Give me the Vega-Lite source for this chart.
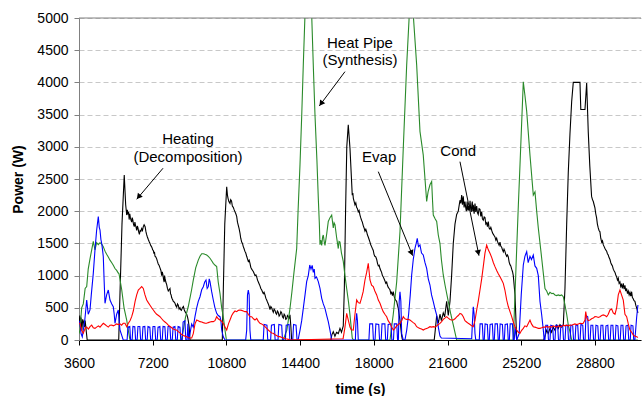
{
"$schema": "https://vega.github.io/schema/vega-lite/v6.json",
"width": 562, "height": 322,
"autosize": "none",
"padding": {"left": 79, "top": 18, "right": 1, "bottom": 56},
"background": "white",
"config": {
 "font": "Liberation Sans",
 "view": {"stroke": null},
 "axisX": {"domainColor": "#000000", "tickColor": "#000000", "tickSize": 5, "labelFontSize": 14, "labelColor": "#000000", "labelPadding": 11, "labelOverlap": false, "labelFlush": false, "titleFontSize": 14, "titleFontWeight": "bold", "titleColor": "#000000", "grid": false},
 "axisY": {"domainColor": "#808080", "tickColor": "#808080", "tickSize": 5, "tickCount": 12, "labelFontSize": 14, "labelColor": "#000000", "labelPadding": 6, "labelOverlap": false, "grid": true, "gridDash": [5, 3], "gridColor": "#c8c8c8", "titleFontSize": 14, "titleFontWeight": "bold", "titleColor": "#000000"}
},
"encoding": {
 "x": {"field": "t", "type": "quantitative", "title": "time (s)", "scale": {"domain": [3600, 31050], "nice": false, "zero": false},
       "axis": {"values": [3600, 7200, 10800, 14400, 18000, 21600, 25200, 28800], "tickCount": 20, "format": "d", "title": "time (s)", "titleX": 281, "titleY": 49, "titleAlign": "center", "titleBaseline": "middle"}},
 "y": {"field": "p", "type": "quantitative", "title": "Power (W)", "scale": {"domain": [0, 5000], "nice": false, "zero": true},
       "axis": {"values": [0, 500, 1000, 1500, 2000, 2500, 3000, 3500, 4000, 4500, 5000], "tickCount": 12, "format": "d", "title": "Power (W)", "titleX": -61, "titleY": 161, "titleAngle": -90, "titleAlign": "center", "titleBaseline": "middle"}}
},
"datasets": {
 "heating": [
  {"t":3600,"p":250},{"t":3640,"p":380},{"t":3670,"p":200},{"t":3700,"p":350},{"t":3740,"p":150},{"t":3780,"p":320},{"t":3820,"p":280},{"t":3860,"p":200},{"t":3900,"p":300},{"t":3960,"p":120},{"t":4000,"p":0},
  {"t":5540,"p":0},{"t":5600,"p":700},{"t":5700,"p":1800},{"t":5810,"p":2560},{"t":5880,"p":2100},{"t":5930,"p":1940},{"t":5960,"p":2020},{"t":5990,"p":1950},{"t":6020,"p":1990},{"t":6050,"p":1870},{"t":6080,"p":1960},{"t":6110,"p":1900},{"t":6140,"p":1860},{"t":6174,"p":1830},{"t":6200,"p":1900},{"t":6230,"p":1860},{"t":6265,"p":1790},{"t":6300,"p":1760},{"t":6330,"p":1830},{"t":6360,"p":1780},{"t":6390,"p":1750},{"t":6418,"p":1700},{"t":6450,"p":1770},{"t":6480,"p":1740},{"t":6515,"p":1680},{"t":6550,"p":1640},{"t":6585,"p":1700},{"t":6620,"p":1690},{"t":6660,"p":1730},{"t":6700,"p":1700},{"t":6740,"p":1760},{"t":6780,"p":1790},{"t":6830,"p":1760},{"t":6865,"p":1690},{"t":6900,"p":1640},{"t":6940,"p":1600},{"t":6985,"p":1560},{"t":7025,"p":1530},{"t":7068,"p":1500},{"t":7100,"p":1470},{"t":7140,"p":1450},{"t":7170,"p":1430},{"t":7200,"p":1400},{"t":7230,"p":1390},{"t":7260,"p":1340},{"t":7285,"p":1370},{"t":7312,"p":1300},{"t":7350,"p":1290},{"t":7395,"p":1260},{"t":7430,"p":1220},{"t":7470,"p":1180},{"t":7510,"p":1160},{"t":7556,"p":1120},{"t":7600,"p":1080},{"t":7639,"p":1000},{"t":7670,"p":1060},{"t":7700,"p":1010},{"t":7730,"p":940},{"t":7760,"p":900},{"t":7780,"p":1000},{"t":7800,"p":960},{"t":7840,"p":900},{"t":7883,"p":860},{"t":7920,"p":800},{"t":7961,"p":760},{"t":8000,"p":780},{"t":8044,"p":800},{"t":8070,"p":720},{"t":8100,"p":700},{"t":8125,"p":660},{"t":8150,"p":640},{"t":8180,"p":620},{"t":8206,"p":600},{"t":8245,"p":590},{"t":8289,"p":570},{"t":8330,"p":530},{"t":8372,"p":510},{"t":8410,"p":560},{"t":8450,"p":540},{"t":8490,"p":480},{"t":8533,"p":500},{"t":8565,"p":470},{"t":8600,"p":460},{"t":8650,"p":500},{"t":8700,"p":520},{"t":8740,"p":470},{"t":8780,"p":440},{"t":8820,"p":420},{"t":8860,"p":400},{"t":8900,"p":360},{"t":8938,"p":300},{"t":8980,"p":200},{"t":9021,"p":0},
  {"t":10600,"p":0},{"t":10650,"p":800},{"t":10720,"p":1800},{"t":10814,"p":2380},{"t":10850,"p":2250},{"t":10880,"p":2200},{"t":10920,"p":2150},{"t":10975,"p":2120},{"t":11010,"p":2180},{"t":11050,"p":2160},{"t":11090,"p":2080},{"t":11136,"p":2060},{"t":11180,"p":2020},{"t":11220,"p":1990},{"t":11260,"p":1960},{"t":11302,"p":1920},{"t":11340,"p":1830},{"t":11380,"p":1780},{"t":11420,"p":1730},{"t":11463,"p":1660},{"t":11500,"p":1580},{"t":11546,"p":1520},{"t":11585,"p":1500},{"t":11624,"p":1450},{"t":11660,"p":1420},{"t":11700,"p":1380},{"t":11745,"p":1350},{"t":11790,"p":1300},{"t":11830,"p":1260},{"t":11869,"p":1220},{"t":11910,"p":1240},{"t":11952,"p":1190},{"t":11990,"p":1130},{"t":12035,"p":1100},{"t":12080,"p":1080},{"t":12120,"p":1060},{"t":12160,"p":1030},{"t":12196,"p":1000},{"t":12240,"p":1010},{"t":12279,"p":980},{"t":12320,"p":930},{"t":12360,"p":900},{"t":12400,"p":870},{"t":12440,"p":840},{"t":12480,"p":800},{"t":12520,"p":780},{"t":12560,"p":750},{"t":12601,"p":720},{"t":12640,"p":740},{"t":12684,"p":700},{"t":12725,"p":650},{"t":12767,"p":620},{"t":12805,"p":590},{"t":12846,"p":560},{"t":12890,"p":520},{"t":12929,"p":470},{"t":12970,"p":520},{"t":13010,"p":500},{"t":13050,"p":460},{"t":13090,"p":430},{"t":13130,"p":480},{"t":13173,"p":460},{"t":13210,"p":420},{"t":13250,"p":400},{"t":13290,"p":450},{"t":13330,"p":430},{"t":13375,"p":370},{"t":13417,"p":390},{"t":13460,"p":440},{"t":13500,"p":420},{"t":13540,"p":360},{"t":13580,"p":340},{"t":13620,"p":400},{"t":13661,"p":380},{"t":13700,"p":320},{"t":13744,"p":330},{"t":13780,"p":380},{"t":13822,"p":360},{"t":13860,"p":340},{"t":13905,"p":390},{"t":13950,"p":200},{"t":13988,"p":0},
  {"t":15900,"p":0},{"t":15950,"p":80},{"t":16020,"p":130},{"t":16100,"p":60},{"t":16180,"p":120},{"t":16264,"p":100},{"t":16347,"p":180},{"t":16420,"p":120},{"t":16508,"p":220},{"t":16560,"p":800},{"t":16620,"p":2000},{"t":16680,"p":3000},{"t":16752,"p":3340},{"t":16835,"p":2980},{"t":16947,"p":2250},{"t":16975,"p":2280},{"t":17000,"p":2200},{"t":17040,"p":2150},{"t":17079,"p":2100},{"t":17120,"p":2130},{"t":17160,"p":2060},{"t":17200,"p":2040},{"t":17240,"p":1990},{"t":17280,"p":2010},{"t":17324,"p":1940},{"t":17360,"p":1900},{"t":17400,"p":1860},{"t":17440,"p":1830},{"t":17480,"p":1780},{"t":17525,"p":1740},{"t":17568,"p":1690},{"t":17610,"p":1720},{"t":17651,"p":1680},{"t":17690,"p":1630},{"t":17729,"p":1600},{"t":17770,"p":1560},{"t":17812,"p":1520},{"t":17850,"p":1480},{"t":17890,"p":1450},{"t":17930,"p":1420},{"t":17973,"p":1390},{"t":18010,"p":1330},{"t":18050,"p":1300},{"t":18095,"p":1290},{"t":18140,"p":1250},{"t":18180,"p":1190},{"t":18220,"p":1150},{"t":18260,"p":1160},{"t":18301,"p":1110},{"t":18340,"p":1080},{"t":18380,"p":1050},{"t":18420,"p":1000},{"t":18460,"p":980},{"t":18500,"p":950},{"t":18540,"p":920},{"t":18585,"p":880},{"t":18628,"p":900},{"t":18665,"p":850},{"t":18700,"p":820},{"t":18745,"p":800},{"t":18789,"p":780},{"t":18830,"p":720},{"t":18870,"p":740},{"t":18910,"p":690},{"t":18950,"p":750},{"t":18990,"p":680},{"t":19030,"p":640},{"t":19070,"p":620},{"t":19116,"p":600},{"t":19155,"p":540},{"t":19194,"p":490},{"t":19278,"p":300},{"t":19361,"p":60},{"t":19400,"p":0},
  {"t":20950,"p":0},{"t":21000,"p":150},{"t":21070,"p":380},{"t":21150,"p":260},{"t":21231,"p":400},{"t":21300,"p":300},{"t":21392,"p":420},{"t":21460,"p":360},{"t":21558,"p":600},{"t":21637,"p":380},{"t":21720,"p":600},{"t":21800,"p":1000},{"t":21881,"p":1500},{"t":21964,"p":1800},{"t":22047,"p":1950},{"t":22125,"p":2000},{"t":22208,"p":2170},{"t":22250,"p":2120},{"t":22291,"p":2250},{"t":22330,"p":2100},{"t":22369,"p":2230},{"t":22410,"p":2060},{"t":22452,"p":2150},{"t":22490,"p":2050},{"t":22520,"p":2000},{"t":22560,"p":2150},{"t":22590,"p":2010},{"t":22614,"p":2080},{"t":22655,"p":2010},{"t":22700,"p":2160},{"t":22730,"p":2040},{"t":22760,"p":1990},{"t":22790,"p":2110},{"t":22810,"p":2150},{"t":22835,"p":2000},{"t":22858,"p":2100},{"t":22900,"p":1960},{"t":22941,"p":2120},{"t":22980,"p":1990},{"t":23024,"p":2080},{"t":23060,"p":1980},{"t":23100,"p":1950},{"t":23140,"p":2040},{"t":23185,"p":2030},{"t":23225,"p":1920},{"t":23268,"p":1990},{"t":23305,"p":1880},{"t":23346,"p":1860},{"t":23390,"p":1910},{"t":23429,"p":1900},{"t":23470,"p":1800},{"t":23512,"p":1820},{"t":23550,"p":1760},{"t":23591,"p":1840},{"t":23630,"p":1740},{"t":23674,"p":1720},{"t":23715,"p":1750},{"t":23760,"p":1700},{"t":23800,"p":1660},{"t":23840,"p":1640},{"t":23880,"p":1620},{"t":23918,"p":1600},{"t":23960,"p":1550},{"t":24000,"p":1580},{"t":24040,"p":1530},{"t":24080,"p":1500},{"t":24120,"p":1470},{"t":24162,"p":1520},{"t":24200,"p":1460},{"t":24245,"p":1440},{"t":24285,"p":1400},{"t":24324,"p":1370},{"t":24360,"p":1410},{"t":24400,"p":1380},{"t":24445,"p":1330},{"t":24490,"p":1300},{"t":24530,"p":1320},{"t":24568,"p":1290},{"t":24610,"p":1210},{"t":24651,"p":1170},{"t":24690,"p":1150},{"t":24734,"p":1100},{"t":24775,"p":1060},{"t":24813,"p":1000},{"t":24896,"p":700},{"t":24979,"p":0},
  {"t":26300,"p":0},{"t":26360,"p":60},{"t":26443,"p":150},{"t":26520,"p":100},{"t":26604,"p":180},{"t":26680,"p":120},{"t":26766,"p":200},{"t":26848,"p":150},{"t":26930,"p":230},{"t":27010,"p":180},{"t":27092,"p":240},{"t":27175,"p":200},{"t":27254,"p":230},{"t":27336,"p":800},{"t":27420,"p":1800},{"t":27498,"p":2600},{"t":27580,"p":3200},{"t":27663,"p":3700},{"t":27742,"p":4000},{"t":27900,"p":4000},{"t":28069,"p":4000},{"t":28110,"p":3580},{"t":28230,"p":3580},{"t":28313,"p":3580},{"t":28396,"p":3990},{"t":28474,"p":3230},{"t":28550,"p":2700},{"t":28636,"p":2230},{"t":28680,"p":2180},{"t":28720,"p":2150},{"t":28760,"p":2100},{"t":28800,"p":2050},{"t":28840,"p":1960},{"t":28880,"p":1900},{"t":28920,"p":1800},{"t":28962,"p":1740},{"t":29000,"p":1700},{"t":29045,"p":1680},{"t":29085,"p":1580},{"t":29130,"p":1520},{"t":29170,"p":1540},{"t":29206,"p":1480},{"t":29250,"p":1450},{"t":29290,"p":1420},{"t":29330,"p":1400},{"t":29372,"p":1380},{"t":29410,"p":1340},{"t":29451,"p":1320},{"t":29490,"p":1280},{"t":29534,"p":1250},{"t":29575,"p":1200},{"t":29617,"p":1170},{"t":29655,"p":1150},{"t":29695,"p":1100},{"t":29740,"p":1070},{"t":29780,"p":1050},{"t":29820,"p":1010},{"t":29860,"p":980},{"t":29900,"p":930},{"t":29940,"p":960},{"t":29980,"p":880},{"t":30022,"p":900},{"t":30060,"p":830},{"t":30100,"p":860},{"t":30140,"p":800},{"t":30184,"p":880},{"t":30225,"p":790},{"t":30266,"p":850},{"t":30305,"p":760},{"t":30349,"p":800},{"t":30390,"p":720},{"t":30430,"p":760},{"t":30470,"p":700},{"t":30510,"p":740},{"t":30550,"p":680},{"t":30593,"p":750},{"t":30630,"p":660},{"t":30670,"p":640},{"t":30710,"p":610},{"t":30754,"p":600},{"t":30795,"p":540},{"t":30837,"p":500},{"t":30900,"p":420}
 ],
 "pipe": [
  {"t":3600,"p":100},{"t":3649,"p":155},{"t":3730,"p":500},{"t":3810,"p":560},{"t":3900,"p":800},{"t":3976,"p":830},{"t":4050,"p":1100},{"t":4137,"p":1260},{"t":4220,"p":1400},{"t":4298,"p":1530},{"t":4381,"p":1400},{"t":4460,"p":1510},{"t":4543,"p":1480},{"t":4626,"p":1510},{"t":4709,"p":1490},{"t":4787,"p":1450},{"t":4870,"p":1380},{"t":4950,"p":1330},{"t":5031,"p":1290},{"t":5114,"p":1240},{"t":5200,"p":1200},{"t":5275,"p":1160},{"t":5358,"p":1110},{"t":5440,"p":1080},{"t":5519,"p":1040},{"t":5554,"p":1030},{"t":5686,"p":780},{"t":5800,"p":500},{"t":5930,"p":310},{"t":6008,"p":150},{"t":6091,"p":0},
  {"t":8600,"p":0},{"t":8694,"p":155},{"t":8800,"p":350},{"t":8938,"p":520},{"t":9100,"p":780},{"t":9182,"p":930},{"t":9300,"p":1120},{"t":9426,"p":1240},{"t":9510,"p":1300},{"t":9593,"p":1340},{"t":9671,"p":1340},{"t":9750,"p":1330},{"t":9837,"p":1320},{"t":9915,"p":1300},{"t":9998,"p":1270},{"t":10080,"p":1230},{"t":10159,"p":1190},{"t":10250,"p":1160},{"t":10325,"p":1140},{"t":10400,"p":900},{"t":10486,"p":725},{"t":10569,"p":500},{"t":10648,"p":360},{"t":10731,"p":155},{"t":10800,"p":0},
  {"t":13580,"p":0},{"t":13661,"p":80},{"t":13750,"p":150},{"t":13822,"p":300},{"t":13905,"p":490},{"t":14000,"p":750},{"t":14100,"p":1050},{"t":14233,"p":1420},{"t":14300,"p":2000},{"t":14394,"p":2720},{"t":14480,"p":3500},{"t":14555,"p":4270},{"t":14638,"p":5050},{"t":14700,"p":5400},{"t":14900,"p":5400},{"t":14965,"p":5050},{"t":15050,"p":4200},{"t":15127,"p":3490},{"t":15220,"p":2800},{"t":15288,"p":2200},{"t":15340,"p":1800},{"t":15371,"p":1480},{"t":15410,"p":1550},{"t":15454,"p":1470},{"t":15500,"p":1600},{"t":15532,"p":1630},{"t":15580,"p":1520},{"t":15615,"p":1470},{"t":15700,"p":1650},{"t":15776,"p":1840},{"t":15860,"p":1900},{"t":15942,"p":1940},{"t":16020,"p":1740},{"t":16060,"p":1820},{"t":16103,"p":1790},{"t":16180,"p":1600},{"t":16264,"p":1420},{"t":16300,"p":1530},{"t":16347,"p":1520},{"t":16420,"p":1350},{"t":16508,"p":1220},{"t":16591,"p":1000},{"t":16674,"p":800},{"t":16760,"p":600},{"t":16835,"p":390},{"t":16947,"p":30},{"t":17000,"p":0},
  {"t":18789,"p":0},{"t":18950,"p":400},{"t":19116,"p":900},{"t":19278,"p":1680},{"t":19439,"p":2980},{"t":19605,"p":4270},{"t":19732,"p":5050},{"t":19800,"p":5400},{"t":19880,"p":5400},{"t":19927,"p":5050},{"t":20093,"p":4270},{"t":20254,"p":3240},{"t":20415,"p":2870},{"t":20500,"p":2500},{"t":20581,"p":2150},{"t":20650,"p":2300},{"t":20742,"p":2410},{"t":20825,"p":2460},{"t":20870,"p":2150},{"t":20904,"p":1940},{"t":21000,"p":1880},{"t":21070,"p":1840},{"t":21148,"p":1630},{"t":21230,"p":1500},{"t":21300,"p":1250},{"t":21392,"p":1010},{"t":21480,"p":850},{"t":21637,"p":595},{"t":21760,"p":400},{"t":21881,"p":233},{"t":22047,"p":0},
  {"t":24813,"p":0},{"t":24979,"p":1420},{"t":25060,"p":2100},{"t":25140,"p":2720},{"t":25301,"p":4010},{"t":25380,"p":3800},{"t":25467,"p":3550},{"t":25628,"p":2870},{"t":25789,"p":2250},{"t":25872,"p":2300},{"t":25955,"p":2000},{"t":26034,"p":1740},{"t":26199,"p":1270},{"t":26360,"p":800},{"t":26443,"p":760},{"t":26522,"p":700},{"t":26604,"p":740},{"t":26700,"p":720},{"t":26766,"p":725},{"t":26848,"p":700},{"t":26930,"p":690},{"t":27010,"p":700},{"t":27092,"p":690},{"t":27175,"p":700},{"t":27254,"p":672},{"t":27336,"p":544},{"t":27420,"p":400},{"t":27498,"p":233},{"t":27600,"p":100},{"t":27663,"p":0},{"t":30900,"p":0}
 ],
 "evap": [
  {"t":3600,"p":300},{"t":3649,"p":259},{"t":3700,"p":100},{"t":3760,"p":50},{"t":3810,"p":155},{"t":3880,"p":300},{"t":3976,"p":621},{"t":4050,"p":400},{"t":4137,"p":466},{"t":4200,"p":700},{"t":4298,"p":1035},{"t":4381,"p":1400},{"t":4460,"p":1700},{"t":4543,"p":1915},{"t":4590,"p":1750},{"t":4626,"p":1708},{"t":4670,"p":1560},{"t":4709,"p":1501},{"t":4750,"p":1400},{"t":4787,"p":1294},{"t":4830,"p":900},{"t":4870,"p":570},{"t":4950,"p":700},{"t":5031,"p":776},{"t":5070,"p":700},{"t":5114,"p":621},{"t":5200,"p":560},{"t":5275,"p":517},{"t":5320,"p":400},{"t":5358,"p":259},{"t":5440,"p":400},{"t":5519,"p":466},{"t":5560,"p":300},{"t":5602,"p":155},{"t":5680,"p":80},{"t":5760,"p":0},
  {"t":5950,"p":0},{"t":5990,"p":200},{"t":6080,"p":210},{"t":6120,"p":0},
  {"t":6195,"p":0},{"t":6235,"p":210},{"t":6325,"p":205},{"t":6365,"p":0},
  {"t":6440,"p":0},{"t":6480,"p":210},{"t":6570,"p":210},{"t":6610,"p":0},
  {"t":6685,"p":0},{"t":6725,"p":205},{"t":6815,"p":210},{"t":6855,"p":0},
  {"t":6930,"p":0},{"t":6970,"p":210},{"t":7060,"p":200},{"t":7100,"p":0},
  {"t":7175,"p":0},{"t":7215,"p":210},{"t":7305,"p":210},{"t":7345,"p":0},
  {"t":7420,"p":0},{"t":7460,"p":200},{"t":7550,"p":210},{"t":7590,"p":0},
  {"t":7665,"p":0},{"t":7705,"p":210},{"t":7795,"p":205},{"t":7835,"p":0},
  {"t":7910,"p":0},{"t":7950,"p":210},{"t":8040,"p":210},{"t":8080,"p":0},
  {"t":8155,"p":0},{"t":8195,"p":200},{"t":8285,"p":210},{"t":8325,"p":0},
  {"t":8400,"p":0},{"t":8440,"p":210},{"t":8530,"p":200},{"t":8570,"p":0},
  {"t":8645,"p":0},{"t":8685,"p":280},{"t":8775,"p":300},{"t":8815,"p":0},
  {"t":8880,"p":0},{"t":8920,"p":250},{"t":8960,"p":0},
  {"t":9021,"p":100},{"t":9104,"p":250},{"t":9182,"p":200},{"t":9265,"p":362},{"t":9348,"p":500},{"t":9426,"p":600},{"t":9510,"p":672},{"t":9593,"p":780},{"t":9671,"p":828},{"t":9740,"p":900},{"t":9803,"p":932},{"t":9860,"p":800},{"t":9915,"p":828},{"t":9960,"p":950},{"t":9998,"p":906},{"t":10080,"p":750},{"t":10159,"p":621},{"t":10240,"p":500},{"t":10325,"p":414},{"t":10400,"p":380},{"t":10486,"p":362},{"t":10530,"p":300},{"t":10569,"p":155},{"t":10648,"p":50},{"t":10731,"p":0},
  {"t":11740,"p":0},{"t":11790,"p":150},{"t":11830,"p":700},{"t":11869,"p":776},{"t":11910,"p":700},{"t":11950,"p":150},{"t":11990,"p":0},
  {"t":12600,"p":0},{"t":12640,"p":240},{"t":12780,"p":230},{"t":12820,"p":0},
  {"t":12960,"p":0},{"t":13000,"p":230},{"t":13140,"p":240},{"t":13180,"p":0},
  {"t":13320,"p":0},{"t":13360,"p":240},{"t":13500,"p":230},{"t":13540,"p":0},
  {"t":13680,"p":0},{"t":13720,"p":230},{"t":13860,"p":240},{"t":13900,"p":0},
  {"t":14040,"p":0},{"t":14080,"p":240},{"t":14200,"p":230},{"t":14250,"p":0},
  {"t":14300,"p":0},{"t":14394,"p":150},{"t":14477,"p":300},{"t":14555,"p":492},{"t":14640,"p":700},{"t":14720,"p":906},{"t":14799,"p":1000},{"t":14870,"p":1165},{"t":14931,"p":1100},{"t":14990,"p":1160},{"t":15044,"p":1050},{"t":15090,"p":1100},{"t":15127,"p":958},{"t":15200,"p":980},{"t":15288,"p":906},{"t":15371,"p":800},{"t":15454,"p":647},{"t":15532,"p":560},{"t":15615,"p":492},{"t":15700,"p":380},{"t":15776,"p":285},{"t":15860,"p":150},{"t":15942,"p":0},
  {"t":17100,"p":0},{"t":17130,"p":300},{"t":17162,"p":414},{"t":17200,"p":300},{"t":17240,"p":0},
  {"t":17760,"p":0},{"t":17800,"p":250},{"t":17940,"p":250},{"t":17980,"p":0},
  {"t":18060,"p":0},{"t":18100,"p":250},{"t":18240,"p":240},{"t":18280,"p":0},
  {"t":18360,"p":0},{"t":18400,"p":250},{"t":18540,"p":250},{"t":18580,"p":0},
  {"t":18660,"p":0},{"t":18700,"p":240},{"t":18840,"p":250},{"t":18880,"p":0},
  {"t":18960,"p":0},{"t":19000,"p":250},{"t":19120,"p":250},{"t":19160,"p":0},
  {"t":19200,"p":0},{"t":19240,"p":600},{"t":19278,"p":750},{"t":19320,"p":600},{"t":19361,"p":100},{"t":19439,"p":0},
  {"t":19520,"p":0},{"t":19605,"p":150},{"t":19700,"p":400},{"t":19780,"p":700},{"t":19849,"p":1009},{"t":19927,"p":1250},{"t":20010,"p":1424},{"t":20070,"p":1500},{"t":20122,"p":1579},{"t":20180,"p":1450},{"t":20254,"p":1475},{"t":20330,"p":1350},{"t":20415,"p":1320},{"t":20500,"p":1200},{"t":20581,"p":1113},{"t":20660,"p":950},{"t":20742,"p":854},{"t":20820,"p":700},{"t":20904,"p":595},{"t":20990,"p":480},{"t":21070,"p":388},{"t":21150,"p":200},{"t":21231,"p":60},{"t":21300,"p":30},{"t":22780,"p":20},
  {"t":22820,"p":300},{"t":22858,"p":517},{"t":22900,"p":400},{"t":22941,"p":100},{"t":22980,"p":0},
  {"t":23150,"p":0},{"t":23190,"p":250},{"t":23300,"p":250},{"t":23340,"p":0},
  {"t":23395,"p":0},{"t":23435,"p":250},{"t":23545,"p":240},{"t":23585,"p":0},
  {"t":23640,"p":0},{"t":23680,"p":240},{"t":23790,"p":250},{"t":23830,"p":0},
  {"t":23885,"p":0},{"t":23925,"p":250},{"t":24035,"p":250},{"t":24075,"p":0},
  {"t":24130,"p":0},{"t":24170,"p":250},{"t":24280,"p":240},{"t":24320,"p":0},
  {"t":24375,"p":0},{"t":24415,"p":240},{"t":24525,"p":250},{"t":24565,"p":0},
  {"t":24620,"p":0},{"t":24660,"p":250},{"t":24770,"p":250},{"t":24810,"p":0},
  {"t":24860,"p":0},{"t":24900,"p":200},{"t":24979,"p":0},
  {"t":25100,"p":100},{"t":25200,"p":700},{"t":25301,"p":1165},{"t":25380,"p":1300},{"t":25467,"p":1371},{"t":25540,"p":1200},{"t":25628,"p":1300},{"t":25700,"p":1250},{"t":25789,"p":1320},{"t":25870,"p":1150},{"t":25955,"p":1113},{"t":26034,"p":1000},{"t":26116,"p":600},{"t":26200,"p":388},{"t":26278,"p":155},{"t":26320,"p":0},
  {"t":26360,"p":0},{"t":26400,"p":230},{"t":26490,"p":230},{"t":26530,"p":0},
  {"t":26605,"p":0},{"t":26645,"p":230},{"t":26735,"p":220},{"t":26775,"p":0},
  {"t":26850,"p":0},{"t":26890,"p":230},{"t":26980,"p":230},{"t":27020,"p":0},
  {"t":27095,"p":0},{"t":27135,"p":220},{"t":27225,"p":230},{"t":27265,"p":0},
  {"t":27340,"p":0},{"t":27380,"p":230},{"t":27470,"p":230},{"t":27510,"p":0},
  {"t":27585,"p":0},{"t":27625,"p":230},{"t":27715,"p":220},{"t":27755,"p":0},
  {"t":27830,"p":0},{"t":27870,"p":230},{"t":27960,"p":230},{"t":28000,"p":0},
  {"t":28075,"p":0},{"t":28115,"p":240},{"t":28205,"p":230},{"t":28245,"p":0},
  {"t":28320,"p":0},{"t":28360,"p":380},{"t":28450,"p":360},{"t":28490,"p":0},
  {"t":28565,"p":0},{"t":28605,"p":230},{"t":28695,"p":230},{"t":28735,"p":0},
  {"t":28810,"p":0},{"t":28850,"p":230},{"t":28940,"p":220},{"t":28980,"p":0},
  {"t":29055,"p":0},{"t":29095,"p":230},{"t":29185,"p":230},{"t":29225,"p":0},
  {"t":29300,"p":0},{"t":29340,"p":220},{"t":29430,"p":230},{"t":29470,"p":0},
  {"t":29545,"p":0},{"t":29585,"p":230},{"t":29675,"p":230},{"t":29715,"p":0},
  {"t":29790,"p":0},{"t":29830,"p":230},{"t":29920,"p":220},{"t":29960,"p":0},
  {"t":30035,"p":0},{"t":30075,"p":230},{"t":30165,"p":230},{"t":30205,"p":0},
  {"t":30280,"p":0},{"t":30320,"p":220},{"t":30410,"p":230},{"t":30450,"p":0},
  {"t":30525,"p":0},{"t":30565,"p":230},{"t":30655,"p":220},{"t":30695,"p":0},
  {"t":30750,"p":0},{"t":30837,"p":350},{"t":30900,"p":544}
 ],
 "cond": [
  {"t":3600,"p":260},{"t":3649,"p":259},{"t":3730,"p":150},{"t":3810,"p":104},{"t":3900,"p":180},{"t":3976,"p":200},{"t":4060,"p":170},{"t":4137,"p":207},{"t":4220,"p":230},{"t":4298,"p":190},{"t":4381,"p":181},{"t":4460,"p":200},{"t":4550,"p":220},{"t":4626,"p":200},{"t":4709,"p":230},{"t":4787,"p":259},{"t":4870,"p":240},{"t":4950,"p":220},{"t":5031,"p":200},{"t":5114,"p":230},{"t":5200,"p":233},{"t":5275,"p":220},{"t":5358,"p":233},{"t":5440,"p":250},{"t":5519,"p":240},{"t":5602,"p":250},{"t":5680,"p":230},{"t":5760,"p":259},{"t":5847,"p":259},{"t":5930,"p":207},{"t":6010,"p":260},{"t":6091,"p":300},{"t":6174,"p":362},{"t":6252,"p":450},{"t":6340,"p":600},{"t":6418,"p":700},{"t":6496,"p":776},{"t":6579,"p":800},{"t":6662,"p":828},{"t":6740,"p":800},{"t":6823,"p":700},{"t":6906,"p":621},{"t":6985,"p":580},{"t":7068,"p":540},{"t":7150,"p":500},{"t":7229,"p":466},{"t":7312,"p":430},{"t":7395,"p":400},{"t":7480,"p":380},{"t":7556,"p":362},{"t":7640,"p":330},{"t":7720,"p":300},{"t":7800,"p":280},{"t":7883,"p":259},{"t":7961,"p":230},{"t":8044,"p":210},{"t":8130,"p":190},{"t":8206,"p":170},{"t":8289,"p":160},{"t":8372,"p":155},{"t":8450,"p":130},{"t":8533,"p":110},{"t":8600,"p":90},{"t":8694,"p":70},{"t":8780,"p":60},{"t":8860,"p":52},{"t":8938,"p":40},{"t":9021,"p":30},{"t":9104,"p":30},{"t":9182,"p":100},{"t":9265,"p":250},{"t":9348,"p":310},{"t":9426,"p":300},{"t":9510,"p":285},{"t":9593,"p":280},{"t":9671,"p":270},{"t":9760,"p":260},{"t":9837,"p":259},{"t":9915,"p":270},{"t":9998,"p":280},{"t":10080,"p":285},{"t":10159,"p":285},{"t":10240,"p":300},{"t":10325,"p":362},{"t":10400,"p":330},{"t":10486,"p":310},{"t":10569,"p":290},{"t":10648,"p":259},{"t":10731,"p":200},{"t":10814,"p":155},{"t":10900,"p":250},{"t":10975,"p":310},{"t":11060,"p":380},{"t":11136,"p":420},{"t":11220,"p":450},{"t":11302,"p":440},{"t":11380,"p":460},{"t":11463,"p":466},{"t":11546,"p":460},{"t":11624,"p":450},{"t":11700,"p":440},{"t":11790,"p":440},{"t":11869,"p":400},{"t":11952,"p":362},{"t":12035,"p":362},{"t":12120,"p":330},{"t":12196,"p":310},{"t":12279,"p":336},{"t":12360,"p":290},{"t":12440,"p":259},{"t":12520,"p":250},{"t":12601,"p":230},{"t":12684,"p":207},{"t":12767,"p":180},{"t":12846,"p":155},{"t":12929,"p":130},{"t":13010,"p":110},{"t":13090,"p":104},{"t":13173,"p":80},{"t":13250,"p":70},{"t":13340,"p":52},{"t":13417,"p":52},{"t":13500,"p":40},{"t":13600,"p":30},{"t":13700,"p":20},{"t":13822,"p":10},{"t":13905,"p":0},{"t":16500,"p":20},
  {"t":16591,"p":200},{"t":16674,"p":414},{"t":16760,"p":300},{"t":16835,"p":200},{"t":16900,"p":160},{"t":16996,"p":155},{"t":17079,"p":400},{"t":17162,"p":621},{"t":17240,"p":580},{"t":17324,"p":570},{"t":17400,"p":650},{"t":17480,"p":750},{"t":17568,"p":932},{"t":17650,"p":1050},{"t":17729,"p":1191},{"t":17812,"p":932},{"t":17890,"p":850},{"t":17973,"p":828},{"t":18050,"p":760},{"t":18140,"p":700},{"t":18220,"p":620},{"t":18301,"p":570},{"t":18380,"p":500},{"t":18460,"p":440},{"t":18540,"p":400},{"t":18628,"p":362},{"t":18700,"p":300},{"t":18789,"p":259},{"t":18870,"p":200},{"t":18950,"p":155},{"t":19030,"p":180},{"t":19116,"p":220},{"t":19194,"p":240},{"t":19278,"p":259},{"t":19361,"p":300},{"t":19439,"p":362},{"t":19520,"p":330},{"t":19605,"p":320},{"t":19680,"p":320},{"t":19766,"p":310},{"t":19849,"p":290},{"t":19927,"p":270},{"t":20010,"p":250},{"t":20093,"p":207},{"t":20180,"p":190},{"t":20254,"p":180},{"t":20330,"p":170},{"t":20415,"p":155},{"t":20500,"p":170},{"t":20581,"p":180},{"t":20660,"p":190},{"t":20742,"p":207},{"t":20825,"p":200},{"t":20904,"p":207},{"t":20990,"p":200},{"t":21070,"p":220},{"t":21150,"p":240},{"t":21231,"p":259},{"t":21300,"p":280},{"t":21392,"p":320},{"t":21470,"p":340},{"t":21558,"p":362},{"t":21637,"p":340},{"t":21720,"p":320},{"t":21800,"p":310},{"t":21881,"p":310},{"t":21964,"p":330},{"t":22047,"p":360},{"t":22125,"p":380},{"t":22208,"p":414},{"t":22290,"p":400},{"t":22369,"p":360},{"t":22452,"p":300},{"t":22530,"p":280},{"t":22614,"p":259},{"t":22700,"p":240},{"t":22780,"p":220},{"t":22858,"p":207},{"t":22941,"p":300},{"t":23024,"p":466},{"t":23100,"p":600},{"t":23185,"p":776},{"t":23268,"p":950},{"t":23346,"p":1139},{"t":23429,"p":1350},{"t":23512,"p":1475},{"t":23591,"p":1400},{"t":23674,"p":1346},{"t":23760,"p":1280},{"t":23840,"p":1200},{"t":23918,"p":1139},{"t":24000,"p":1080},{"t":24080,"p":1030},{"t":24162,"p":983},{"t":24245,"p":930},{"t":24324,"p":880},{"t":24400,"p":780},{"t":24490,"p":621},{"t":24568,"p":520},{"t":24651,"p":440},{"t":24734,"p":362},{"t":24813,"p":280},{"t":24896,"p":200},{"t":24979,"p":155},{"t":25060,"p":120},{"t":25140,"p":104},{"t":25220,"p":150},{"t":25301,"p":180},{"t":25380,"p":220},{"t":25467,"p":207},{"t":25550,"p":260},{"t":25628,"p":310},{"t":25700,"p":250},{"t":25789,"p":207},{"t":25870,"p":200},{"t":25955,"p":190},{"t":26034,"p":181},{"t":26116,"p":181},{"t":26200,"p":190},{"t":26280,"p":200},{"t":26360,"p":200},{"t":26443,"p":210},{"t":26522,"p":200},{"t":26604,"p":207},{"t":26700,"p":200},{"t":26766,"p":220},{"t":26848,"p":210},{"t":26930,"p":200},{"t":27010,"p":220},{"t":27092,"p":207},{"t":27175,"p":210},{"t":27254,"p":230},{"t":27336,"p":220},{"t":27420,"p":230},{"t":27498,"p":220},{"t":27580,"p":233},{"t":27663,"p":230},{"t":27742,"p":240},{"t":27820,"p":250},{"t":27900,"p":240},{"t":27990,"p":250},{"t":28069,"p":260},{"t":28150,"p":255},{"t":28230,"p":259},{"t":28313,"p":310},{"t":28350,"p":440},{"t":28396,"p":350},{"t":28474,"p":300},{"t":28560,"p":310},{"t":28636,"p":330},{"t":28720,"p":340},{"t":28800,"p":362},{"t":28880,"p":360},{"t":28962,"p":350},{"t":29045,"p":362},{"t":29130,"p":380},{"t":29206,"p":390},{"t":29290,"p":380},{"t":29372,"p":362},{"t":29451,"p":400},{"t":29534,"p":466},{"t":29617,"p":480},{"t":29695,"p":420},{"t":29780,"p":400},{"t":29860,"p":500},{"t":29940,"p":700},{"t":30022,"p":776},{"t":30100,"p":700},{"t":30184,"p":621},{"t":30266,"p":400},{"t":30349,"p":362},{"t":30430,"p":250},{"t":30510,"p":155},{"t":30593,"p":120},{"t":30670,"p":80},{"t":30754,"p":60},{"t":30837,"p":52},{"t":30900,"p":40}
 ],
 "top": [{"t": 3600, "t2": 31050, "p": 5000}],
 "labels": [
  {"t": 8924, "p": 3044, "label": "Heating"},
  {"t": 8924, "p": 2769, "label": "(Decomposition)"},
  {"t": 17324, "p": 4530, "label": "Heat Pipe"},
  {"t": 17324, "p": 4271, "label": "(Synthesis)"},
  {"t": 18262, "p": 2760, "label": "Evap"},
  {"t": 22125, "p": 2858, "label": "Cond"}
 ],
 "arrows": [
  {"name": "Heating", "t": 7703, "p": 2667, "t2": 6418, "p2": 2185},
  {"name": "Pipe", "t": 16591, "p": 4167, "t2": 15337, "p2": 3634},
  {"name": "Evap", "t": 18218, "p": 2614, "t2": 19898, "p2": 1309},
  {"name": "Cond", "t": 22208, "p": 2769, "t2": 23136, "p2": 1309}
 ],
 "heads": [
  {"name": "Heating", "t": 6511, "p": 2221},
  {"name": "Pipe", "t": 15424, "p": 3671},
  {"name": "Evap", "t": 19841, "p": 1352},
  {"name": "Cond", "t": 23105, "p": 1355}
 ]
},
"layer": [
 {"data": {"name": "heating"}, "mark": {"type": "line", "color": "#000000", "strokeWidth": 1.1, "clip": true}},
 {"data": {"name": "pipe"}, "mark": {"type": "line", "color": "#2a8a2a", "strokeWidth": 1.1, "clip": true}},
 {"data": {"name": "evap"}, "mark": {"type": "line", "color": "#0000ff", "strokeWidth": 1.1, "clip": true}},
 {"data": {"name": "cond"}, "mark": {"type": "line", "color": "#ff0000", "strokeWidth": 1.1, "clip": true}},
 {"data": {"name": "top"}, "mark": {"type": "rule", "color": "#808080", "strokeWidth": 1}, "encoding": {"x2": {"field": "t2"}}},
 {"data": {"name": "labels"}, "mark": {"type": "text", "fontSize": 15, "align": "center", "baseline": "alphabetic", "color": "#000000"}, "encoding": {"text": {"field": "label"}}},
 {"data": {"name": "arrows"}, "mark": {"type": "rule", "color": "#000000", "strokeWidth": 1}, "encoding": {"x2": {"field": "t2"}, "y2": {"field": "p2"}}},
 {"data": {"name": "heads"}, "transform": [{"filter": "datum.name === 'Heating'"}], "mark": {"type": "point", "shape": "triangle-up", "filled": true, "color": "#000000", "size": 40, "opacity": 1, "angle": 219}},
 {"data": {"name": "heads"}, "transform": [{"filter": "datum.name === 'Pipe'"}], "mark": {"type": "point", "shape": "triangle-up", "filled": true, "color": "#000000", "size": 40, "opacity": 1, "angle": 216}},
 {"data": {"name": "heads"}, "transform": [{"filter": "datum.name === 'Evap'"}], "mark": {"type": "point", "shape": "triangle-up", "filled": true, "color": "#000000", "size": 40, "opacity": 1, "angle": 157}},
 {"data": {"name": "heads"}, "transform": [{"filter": "datum.name === 'Cond'"}], "mark": {"type": "point", "shape": "triangle-up", "filled": true, "color": "#000000", "size": 40, "opacity": 1, "angle": 168}}
]
}
